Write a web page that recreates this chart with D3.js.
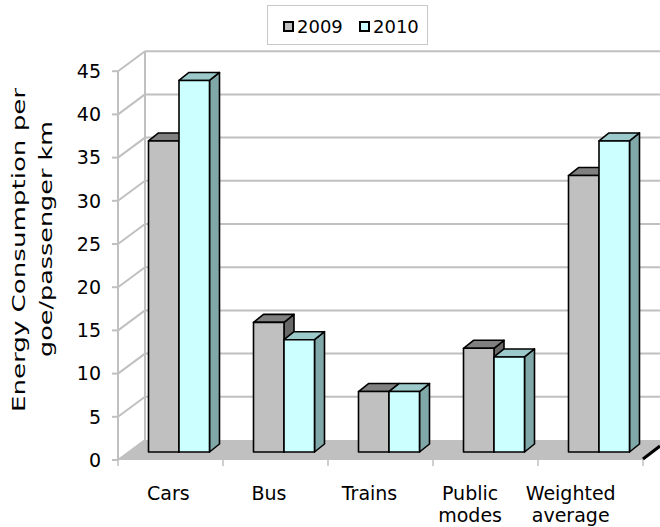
<!DOCTYPE html>
<html>
<head>
<meta charset="utf-8">
<script src="https://cdn.jsdelivr.net/npm/d3@7"></script>
<style>
  html, body { margin: 0; padding: 0; background: #fff; }
  svg { display: block; font-family: "DejaVu Sans", Verdana, sans-serif; }
</style>
</head>
<body>
<svg id="chart" width="660" height="527"></svg>
<script>
// Energy consumption per passenger-km by transport mode
const categories = ["Cars", "Bus", "Trains", "Public modes", "Weighted average"];
const seriesNames = ["2009", "2010"];
const values2009 = [36, 15, 7, 12, 32];
const values2010 = [43, 13, 7, 11, 36];
const yTicks = [0, 5, 10, 15, 20, 25, 30, 35, 40, 45];

const series = [
  { name: seriesNames[0], values: values2009, front: "#C0C0C0", top: "#808080", side: "#686868" },
  { name: seriesNames[1], values: values2010, front: "#CCFFFF", top: "#9CCACA", side: "#80A8A8" }
];

const svg = d3.select("#chart");

// plot geometry (oblique projection: depth moves right and up)
const floorLeft = 118, floorRight = 643, floorFront = 460;
const wallDX = 27, wallDY = -20;           // full depth of the floor / side wall
const barOffX = 8.5, barOffY = -8;          // where the bar fronts sit in depth
const barDX = 10, barDY = -8;               // depth of each bar

const y = d3.scaleLinear().domain([0, 45]).range([floorFront, floorFront - 45 * 8.64]);
const x = d3.scaleBand().domain(categories).range([floorLeft, floorRight]);
const inner = d3.scaleBand().domain(seriesNames).range([0, 61]);
const labelX = d3.scaleBand().domain(categories).range([118, 621]);

const gridColor = "#C0C0C0";

// back wall gridlines
const g = svg.append("g");
g.selectAll("line.back").data(yTicks.slice(1)).join("line")
  .attr("x1", floorLeft + wallDX).attr("x2", 700)
  .attr("y1", d => y(d) + wallDY).attr("y2", d => y(d) + wallDY)
  .attr("stroke", gridColor).attr("stroke-width", 2);

// side wall gridlines
g.selectAll("line.side").data(yTicks).join("line")
  .attr("x1", floorLeft).attr("x2", floorLeft + wallDX)
  .attr("y1", d => y(d)).attr("y2", d => y(d) + wallDY)
  .attr("stroke", gridColor).attr("stroke-width", 2);

// wall edges
g.append("line")
  .attr("x1", floorLeft).attr("x2", floorLeft)
  .attr("y1", y(0)).attr("y2", y(45))
  .attr("stroke", gridColor).attr("stroke-width", 2);
g.append("line")
  .attr("x1", floorLeft + wallDX).attr("x2", floorLeft + wallDX)
  .attr("y1", y(0) + wallDY).attr("y2", y(45) + wallDY)
  .attr("stroke", gridColor).attr("stroke-width", 2);

// floor
g.append("path")
  .attr("d", d3.line()([
    [floorLeft, floorFront], [floorLeft + wallDX, floorFront + wallDY],
    [floorRight + wallDX, floorFront + wallDY], [floorRight, floorFront]
  ]) + "Z")
  .attr("fill", "#C0C0C0");
g.append("line")
  .attr("x1", floorRight).attr("y1", floorFront - 1)
  .attr("x2", floorRight + 17).attr("y2", floorFront - 14)
  .attr("stroke", "#000").attr("stroke-width", 3);

// category ticks along the front edge
const catEdges = categories.map(c => x(c)).concat([floorRight]);
g.selectAll("line.ctick").data(catEdges).join("line")
  .attr("x1", d => d).attr("x2", d => d)
  .attr("y1", floorFront).attr("y2", floorFront + 6)
  .attr("stroke", gridColor).attr("stroke-width", 1.5);

// value ticks and labels
g.selectAll("line.vtick").data(yTicks).join("line")
  .attr("x1", floorLeft - 6).attr("x2", floorLeft)
  .attr("y1", d => y(d)).attr("y2", d => y(d))
  .attr("stroke", gridColor).attr("stroke-width", 2);
g.selectAll("text.vlab").data(yTicks).join("text")
  .attr("x", 101).attr("y", d => y(d)).attr("dy", "0.36em")
  .attr("text-anchor", "end").attr("font-size", 19).attr("fill", "#000")
  .text(d => d);

// bars
const barsG = svg.append("g").attr("stroke", "#000").attr("stroke-width", 1.6)
  .attr("stroke-linejoin", "round");
categories.forEach((cat, ci) => {
  series.forEach(s => {
    const v = s.values[ci];
    const x0 = x(cat) + (x.bandwidth() - 61) / 2 + barOffX + inner(s.name);
    const x1 = x0 + inner.bandwidth();
    const yb = y(0) + barOffY, yt = y(v) + barOffY;
    const bg = barsG.append("g");
    // side face
    bg.append("path").attr("fill", s.side)
      .attr("d", d3.line()([[x1, yb], [x1, yt], [x1 + barDX, yt + barDY], [x1 + barDX, yb + barDY]]) + "Z");
    // top face
    bg.append("path").attr("fill", s.top)
      .attr("d", d3.line()([[x0, yt], [x0 + barDX, yt + barDY], [x1 + barDX, yt + barDY], [x1, yt]]) + "Z");
    // front face
    bg.append("rect").attr("fill", s.front)
      .attr("x", x0).attr("y", yt).attr("width", x1 - x0).attr("height", yb - yt);
  });
});

// category labels, one text element per line
const labelLines = { "Public modes": ["Public", "modes"], "Weighted average": ["Weighted", "average"] };
categories.forEach(cat => {
  const lines = labelLines[cat] || [cat];
  lines.forEach((ln, i) => {
    svg.append("text")
      .attr("x", labelX(cat) + labelX.bandwidth() / 2)
      .attr("y", 500 + i * 22)
      .attr("text-anchor", "middle").attr("font-size", 19).attr("fill", "#000")
      .text(ln);
  });
});

// value axis title
svg.append("text")
  .attr("transform", "translate(25,250) rotate(-90)")
  .attr("text-anchor", "middle").attr("font-size", 18).attr("fill", "#000")
  .attr("textLength", 324).attr("lengthAdjust", "spacingAndGlyphs")
  .text("Energy Consumption per");
svg.append("text")
  .attr("transform", "translate(52,239) rotate(-90)")
  .attr("text-anchor", "middle").attr("font-size", 18).attr("fill", "#000")
  .attr("textLength", 236).attr("lengthAdjust", "spacingAndGlyphs")
  .text("goe/passenger km");

// legend
const leg = svg.append("g");
leg.append("rect").attr("x", 267.5).attr("y", 5.5).attr("width", 160).attr("height", 39)
  .attr("fill", "#fff").attr("stroke", "#C8C8C8").attr("stroke-width", 1);
const legX = [284, 360];
series.forEach((s, i) => {
  leg.append("rect").attr("x", legX[i]).attr("y", 22).attr("width", 9).attr("height", 9)
    .attr("fill", s.front).attr("stroke", "#000").attr("stroke-width", 2);
  leg.append("text").attr("x", legX[i] + 13).attr("y", 32.5)
    .attr("font-size", 18).attr("fill", "#000").text(s.name);
});
</script>
</body>
</html>
